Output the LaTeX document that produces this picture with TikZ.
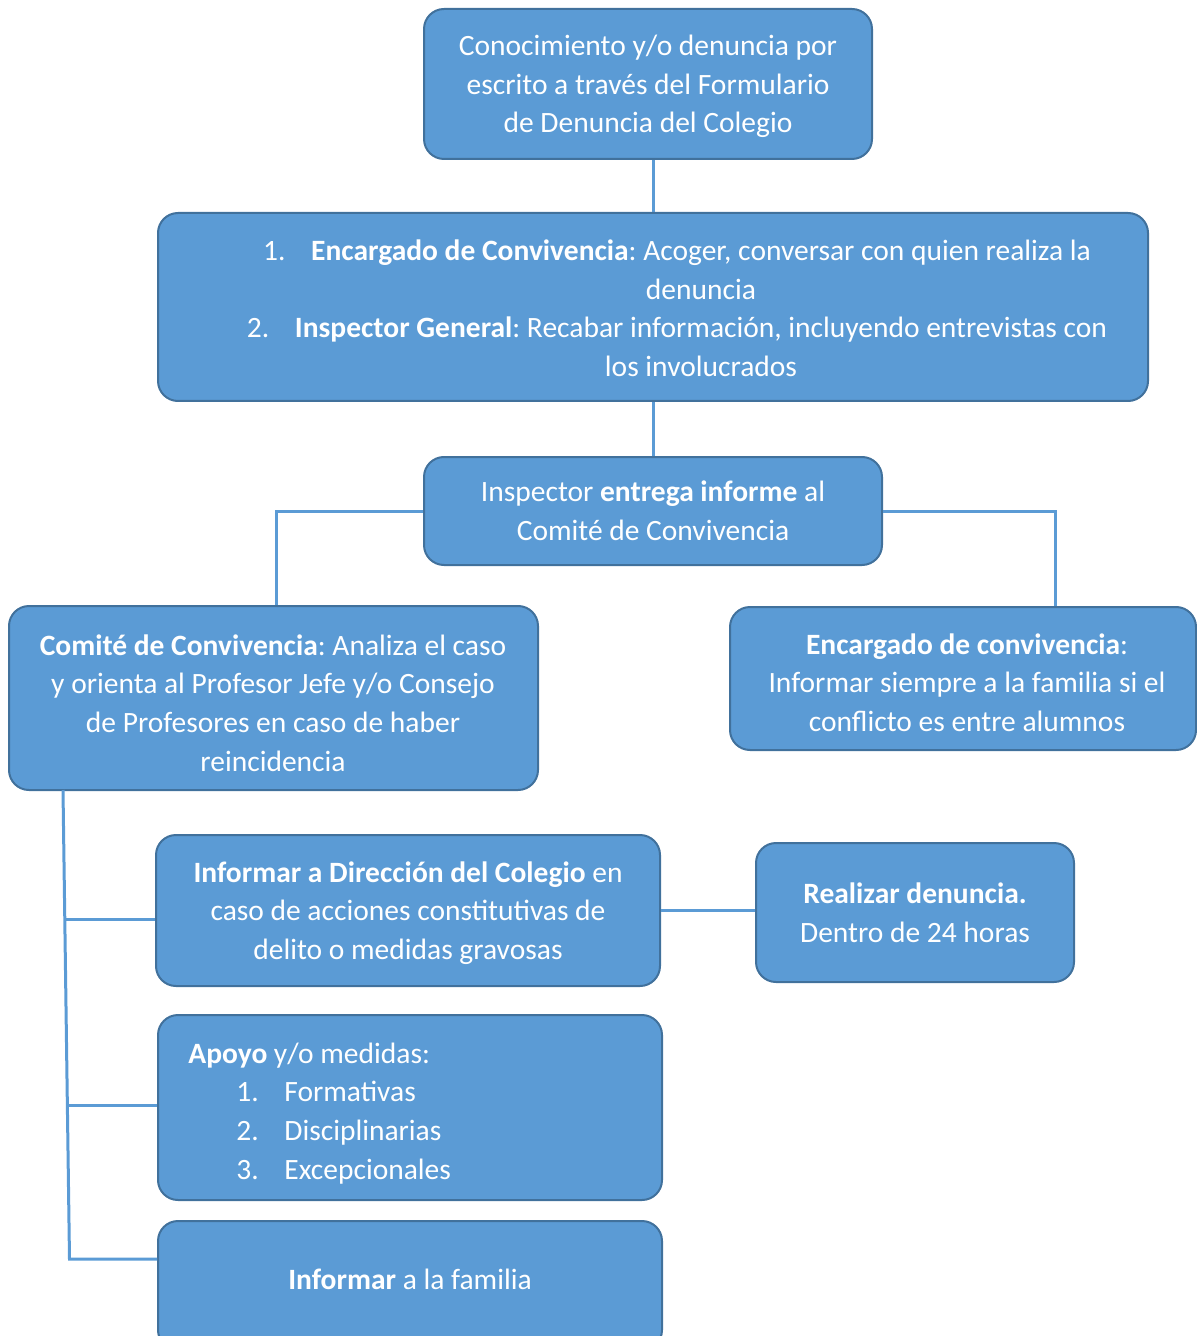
\documentclass[tikz,border=0pt]{standalone}
\usepackage{fontspec}
\setmainfont{Carlito}
\frenchspacing
\usetikzlibrary{calc}
\definecolor{bfill}{HTML}{5B9BD5}
\definecolor{bdraw}{HTML}{41719C}
\begin{document}
\begin{tikzpicture}[x=0.5pt,y=-0.5pt,
  box/.style={draw=bdraw, fill=bfill, line width=1pt, rounded corners=10pt, inner sep=0pt},
  txt/.style={text=white, font=\fontsize{14.75}{19.35}\selectfont, align=center, inner sep=0pt},
  ln/.style={text=white, font=\fontsize{14.75}{19.35}\selectfont, inner sep=0pt, anchor=base},
  conn/.style={draw=bfill, line width=1.5pt}]
\useasboundingbox (0,0) rectangle (1197,1336);
\clip (0,0) rectangle (1197,1336);

% boxes
\node[box, minimum width=224pt, minimum height=75pt] (b1) at (648,84) {};
\node[box, minimum width=495pt, minimum height=94pt] (b2) at (653,307) {};
\node[box, minimum width=229pt, minimum height=54pt] (b3) at (653,511) {};
\node[box, minimum width=264.5pt, minimum height=92pt] (b4) at (273.5,698) {};
\node[box, minimum width=233pt, minimum height=71.5pt] (b5) at (963,678.5) {};
\node[box, minimum width=252pt, minimum height=75.5pt] (b6) at (408,910.5) {};
\node[box, minimum width=159pt, minimum height=69.5pt] (b7) at (915,912.5) {};
\node[box, minimum width=252pt, minimum height=92.5pt] (b8) at (410,1107.5) {};
\node[box, minimum width=252pt, minimum height=64.5pt] (b9) at (410,1285.5) {};

% texts
\node[txt] (t1) at (648,86.5)
  {Conocimiento y/o denuncia por\\escrito a través del Formulario\\de Denuncia del Colegio};
\node[txt] (t3) at (653,511)
  {Inspector \textbf{entrega informe} al\\Comité de Convivencia};
\node[txt] (t4) at (273,703)
  {\textbf{Comité de Convivencia}: Analiza el caso\\y orienta al Profesor Jefe y/o Consejo\\de Profesores en caso de haber\\reincidencia};
\node[txt] (t5) at (967,682.5)
  {\textbf{Encargado de convivencia}:\\Informar siempre a la familia si el\\conflicto es entre alumnos};
\node[txt] (t6) at (408,913)
  {\textbf{Informar a Dirección del Colegio} en\\caso de acciones constitutivas de\\delito o medidas gravosas};
\node[txt] (t7) at (915,912.5)
  {\textbf{Realizar denuncia.}\\Dentro de 24 horas};

% box 2 text
\node[ln] (l1) at (677,261) {\makebox[24pt][l]{1.}\textbf{Encargado de Convivencia}: Acoger, conversar con quien realiza la};
\node[ln] (l2) at (701,300) {denuncia};
\node[ln] (l3) at (677,338) {\makebox[24pt][l]{2.}\textbf{Inspector General}: Recabar información, incluyendo entrevistas con};
\node[ln] (l4) at (701,377) {los involucrados};

% box 8 text
\node[ln, anchor=base west] (a0) at (188,1063) {\textbf{Apoyo} y/o medidas:};
\node[ln, anchor=base west] (a1) at (236,1101) {\makebox[24pt][l]{1.}Formativas};
\node[ln, anchor=base west] (a2) at (236,1140) {\makebox[24pt][l]{2.}Disciplinarias};
\node[ln, anchor=base west] (a3) at (236,1179) {\makebox[24pt][l]{3.}Excepcionales};

% box 9 text
\node[ln] (f1) at (410,1289) {\textbf{Informar} a la familia};

% connectors
\draw[conn] (b2.north) -- (b2.north |- b1.south);
\draw[conn] (b2.south) -- (b3.north);
\coordinate (j4) at (276,511);
\draw[conn] (b3.west) -- (j4) -- (j4 |- b4.north);
\coordinate (j5) at (1055,511);
\draw[conn] (b3.east) -- (j5) -- (j5 |- b5.north);
\coordinate (t0) at (63,790);
\coordinate (tb) at (69.5,1259);
\coordinate (tr1) at (64.8,919);
\coordinate (tr2) at (67.5,1105);
\draw[conn] (t0) -- (tb) -- (tb -| b9.west);
\draw[conn] (tr1) -- (tr1 -| b6.west);
\draw[conn] (tr2) -- (tr2 -| b8.west);
\draw[conn] (b6.east) -- (b6.east -| b7.west);
\end{tikzpicture}
\end{document}
